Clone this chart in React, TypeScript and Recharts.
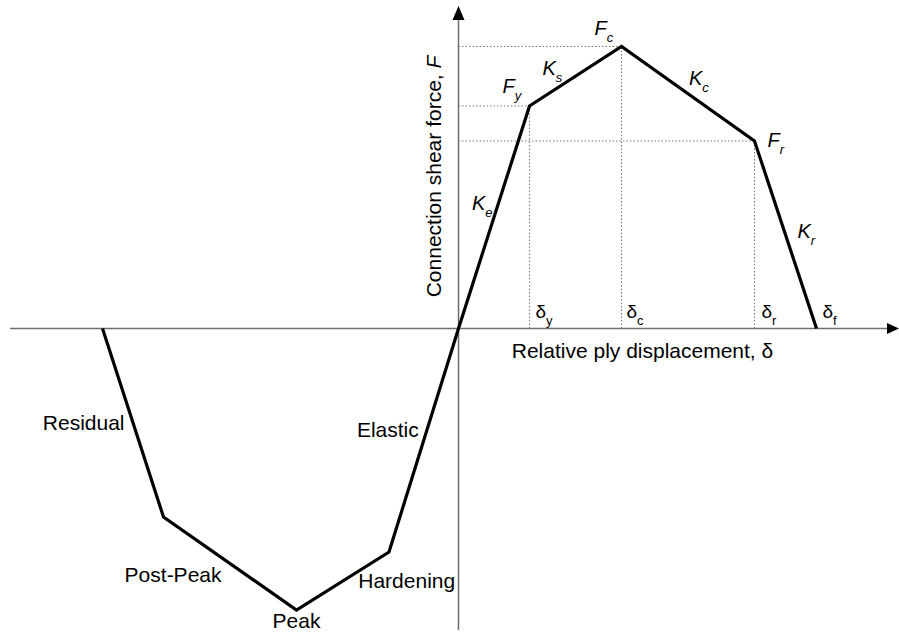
import React from 'react';
import { LineChart, Line, XAxis, YAxis, ReferenceLine, ReferenceDot } from 'recharts';

// Backbone curve (relative ply displacement δ, connection shear force F), arbitrary units
const displacement = [-35.6, -29.5, -16.2, -6.95, 0, 7.1, 16.3, 29.6, 35.8];
const force = [0, -18.85, -28.15, -22.35, 0, 22.25, 28.2, 18.75, 0];

// key points on positive branch
const deltaY = 7.1, deltaC = 16.3, deltaR = 29.6, deltaF = 35.8;
const forceY = 22.25, forceC = 28.2, forceR = 18.75;

const xDomain = [-45.85, 44.05];
const yDomain = [-31.05, 32.85];
const xAxisStart = -44.85;
const yAxisBottom = -30.15;

const data = displacement.map((d, i) => ({ d, f: force[i] }));

const FONT = 'Arial, "Liberation Sans", Helvetica, sans-serif';

type Ann = { x: number; y: number; main: string; sub?: string; italic?: boolean; dx: number; dy: number; anchor?: 'start' | 'middle' | 'end'; size?: number; subSize?: number; subDy?: number };

const annotations: Ann[] = [
  { x: deltaC, y: forceC, main: 'F', sub: 'c', italic: true, dx: -27, dy: -12, size: 20, subSize: 13 },
  { x: deltaY, y: forceY, main: 'F', sub: 'y', italic: true, dx: -27, dy: -13, size: 20, subSize: 13 },
  { x: deltaR, y: forceR, main: 'F', sub: 'r', italic: true, dx: 13, dy: 6, size: 20, subSize: 13 },
  { x: (deltaY + deltaC) / 2, y: (forceY + forceC) / 2, main: 'K', sub: 's', italic: true, dx: -33, dy: -1, size: 20, subSize: 13 },
  { x: (deltaC + deltaR) / 2, y: (forceC + forceR) / 2, main: 'K', sub: 'c', italic: true, dx: 1, dy: -9, size: 20, subSize: 13 },
  { x: deltaY / 2, y: forceY / 2, main: 'K', sub: 'e', italic: true, dx: -22, dy: -7, size: 20, subSize: 13 },
  { x: (deltaR + deltaF) / 2, y: forceR / 2, main: 'K', sub: 'r', italic: true, dx: 12, dy: 3, size: 20, subSize: 13 },
  { x: deltaY, y: 0, main: 'δ', sub: 'y', dx: 6, dy: -11, size: 19, subSize: 13 },
  { x: deltaC, y: 0, main: 'δ', sub: 'c', dx: 5, dy: -11, size: 19, subSize: 13 },
  { x: deltaR, y: 0, main: 'δ', sub: 'r', dx: 7, dy: -11, size: 19, subSize: 13 },
  { x: deltaF, y: 0, main: 'δ', sub: 'f', dx: 6, dy: -11, size: 19, subSize: 13 },
  // negative branch names
  { x: (displacement[0] + displacement[1]) / 2, y: (force[0] + force[1]) / 2, main: 'Residual', dx: -8.5, dy: 7, anchor: 'end', size: 21 },
  { x: (displacement[3] + displacement[4]) / 2, y: (force[3] + force[4]) / 2, main: 'Elastic', dx: -5, dy: -3, anchor: 'end', size: 21 },
  { x: (displacement[1] + displacement[2]) / 2, y: (force[1] + force[2]) / 2, main: 'Post-Peak', dx: -8.5, dy: 18.5, anchor: 'end', size: 21 },
  { x: (displacement[2] + displacement[3]) / 2, y: (force[2] + force[3]) / 2, main: 'Hardening', dx: 15.5, dy: 7, anchor: 'start', size: 21 },
  { x: displacement[2], y: force[2], main: 'Peak', dx: 0, dy: 18, anchor: 'middle', size: 21 },
];

const renderAnn = (a: Ann) => (props: any) => {
  const { cx, cy } = props;
  const size = a.size ?? 18;
  return (
    <text
      x={cx + a.dx}
      y={cy + a.dy}
      textAnchor={a.anchor ?? 'start'}
      fontFamily={FONT}
      fontSize={size}
      fontStyle={a.italic ? 'italic' : 'normal'}
      fill="#000"
    >
      <tspan>{a.main}</tspan>
      {a.sub ? (
        <tspan fontSize={a.subSize ?? 12} dy={a.subDy ?? 7}>
          {a.sub}
        </tspan>
      ) : null}
    </text>
  );
};

const AXIS_COLOR = '#6e6e6e';
const DOT_COLOR = '#777';

export default function App() {
  return (
    <div style={{ position: 'absolute', left: 0, top: 0, width: 899, height: 639, background: '#fff' }}>
      <LineChart width={899} height={639} data={data} margin={{ top: 0, right: 0, bottom: 0, left: 0 }}>
        <XAxis type="number" dataKey="d" domain={xDomain} allowDataOverflow hide />
        <YAxis type="number" domain={yDomain} allowDataOverflow hide />

        {/* dotted guide lines */}
        <ReferenceLine segment={[{ x: 0, y: forceC }, { x: deltaC, y: forceC }]} stroke={DOT_COLOR} strokeDasharray="1.5 2" strokeWidth={1} />
        <ReferenceLine segment={[{ x: 0, y: forceY }, { x: deltaY, y: forceY }]} stroke={DOT_COLOR} strokeDasharray="1.5 2" strokeWidth={1} />
        <ReferenceLine segment={[{ x: 0, y: forceR }, { x: deltaR, y: forceR }]} stroke={DOT_COLOR} strokeDasharray="1.5 2" strokeWidth={1} />
        <ReferenceLine segment={[{ x: deltaY, y: 0 }, { x: deltaY, y: forceY }]} stroke={DOT_COLOR} strokeDasharray="1.5 2" strokeWidth={1} />
        <ReferenceLine segment={[{ x: deltaC, y: 0 }, { x: deltaC, y: forceC }]} stroke={DOT_COLOR} strokeDasharray="1.5 2" strokeWidth={1} />
        <ReferenceLine segment={[{ x: deltaR, y: 0 }, { x: deltaR, y: forceR }]} stroke={DOT_COLOR} strokeDasharray="1.5 2" strokeWidth={1} />

        {/* axes through origin */}
        <ReferenceLine segment={[{ x: xAxisStart, y: 0 }, { x: xDomain[1] - 0.8, y: 0 }]} stroke={AXIS_COLOR} strokeWidth={1.5} />
        <ReferenceLine segment={[{ x: 0, y: yAxisBottom }, { x: 0, y: yDomain[1] - 1.2 }]} stroke={AXIS_COLOR} strokeWidth={1.5} />

        {/* arrowheads */}
        <ReferenceDot
          x={xDomain[1]}
          y={0}
          r={0}
          ifOverflow="visible"
          shape={(p: any) => (
            <polygon points={`${p.cx},${p.cy} ${p.cx - 12},${p.cy - 5.5} ${p.cx - 12},${p.cy + 5.5}`} fill="#000" />
          )}
        />
        <ReferenceDot
          x={0}
          y={yDomain[1] - 0.6}
          r={0}
          ifOverflow="visible"
          shape={(p: any) => (
            <polygon points={`${p.cx},${p.cy} ${p.cx - 6},${p.cy + 14} ${p.cx + 6},${p.cy + 14}`} fill="#000" />
          )}
        />

        <Line
          type="linear"
          dataKey="f"
          stroke="#000"
          strokeWidth={3.2}
          dot={false}
          activeDot={false}
          isAnimationActive={false}
          strokeLinejoin="miter"
        />

        {annotations.map((a, i) => (
          <ReferenceDot key={i} x={a.x} y={a.y} r={0} ifOverflow="visible" shape={renderAnn(a)} />
        ))}

        {/* axis titles */}
        <ReferenceDot
          x={0}
          y={0}
          r={0}
          ifOverflow="visible"
          shape={(p: any) => (
            <g>
              <text
                x={p.cx + 184}
                y={p.cy + 29}
                textAnchor="middle"
                fontFamily={FONT}
                fontSize={21}
                fill="#000"
              >
                Relative ply displacement, δ
              </text>
              <text
                transform={`translate(${p.cx - 18}, ${p.cy - 152}) rotate(-90)`}
                textAnchor="middle"
                fontFamily={FONT}
                fontSize={21}
                fill="#000"
              >
                Connection shear force, <tspan fontStyle="italic">F</tspan>
              </text>
            </g>
          )}
        />
      </LineChart>
    </div>
  );
}
